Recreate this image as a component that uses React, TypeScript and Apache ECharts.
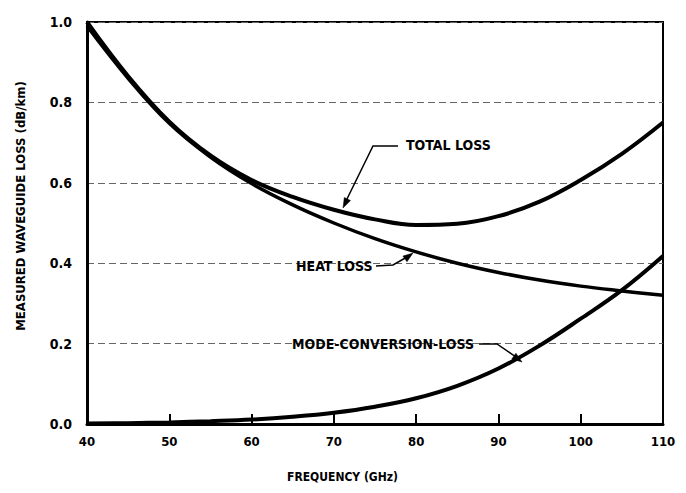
import React, { useEffect, useRef } from "react";
import * as echarts from "echarts";

const frequency = [40, 45, 50, 55, 60, 65, 70, 75, 80, 85, 90, 95, 100, 105, 110];
const totalLoss = [1.0, 0.865, 0.752, 0.668, 0.607, 0.565, 0.533, 0.509, 0.495, 0.498, 0.517, 0.553, 0.607, 0.672, 0.75];
const heatLoss = [0.99, 0.86, 0.748, 0.664, 0.598, 0.545, 0.5, 0.461, 0.428, 0.4, 0.377, 0.358, 0.343, 0.331, 0.32];
const modeConversionLoss = [0.001, 0.002, 0.004, 0.007, 0.011, 0.018, 0.028, 0.043, 0.064, 0.095, 0.138, 0.195, 0.262, 0.333, 0.418];

const FONT = "'DejaVu Sans Condensed', 'Liberation Sans Narrow', 'Liberation Sans', sans-serif";

const pairs = (ys: number[]) => frequency.map((f, i) => [f, ys[i]]);

export default function App() {
  const ref = useRef<HTMLDivElement>(null);
  useEffect(() => {
    if (!ref.current) return;
    const chart = echarts.init(ref.current, null, { renderer: "svg" });
    const lineSeries = (name: string, ys: number[], w: number) => ({
      name,
      type: "line",
      data: pairs(ys),
      smooth: 0.4,
      showSymbol: false,
      lineStyle: { color: "#000", width: w },
      z: 5,
    });
    const txt = (text: string, x: number, y: number, size = 14) => ({
      type: "text",
      x,
      y,
      style: {
        text,
        fill: "#000",
        font: `bold ${size}px ${FONT}`,
        textVerticalAlign: "middle",
      },
      z: 10,
    });
    const leader = (points: number[][]) => ({
      type: "polyline",
      shape: { points },
      style: { stroke: "#000", lineWidth: 1.5, fill: null },
      z: 10,
    });
    const head = (points: number[][]) => ({
      type: "polygon",
      shape: { points },
      style: { fill: "#000", stroke: "#000", lineWidth: 0.5 },
      z: 10,
    });
    chart.setOption({
      animation: false,
      backgroundColor: "#fff",
      grid: {
        left: 87,
        right: 23,
        top: 22,
        bottom: 69,
        show: true,
        borderColor: "#000",
        borderWidth: 2,
      },
      xAxis: {
        type: "value",
        min: 40,
        max: 110,
        interval: 10,
        axisLine: { show: true, lineStyle: { color: "#000", width: 3 } },
        axisTick: { show: true, inside: true, length: 10, lineStyle: { color: "#000", width: 2 } },
        axisLabel: { color: "#000", fontFamily: FONT, fontWeight: "bold", fontSize: 13, margin: 11 },
        splitLine: { show: false },
      },
      yAxis: {
        type: "value",
        min: 0,
        max: 1,
        interval: 0.2,
        axisLine: { show: true, lineStyle: { color: "#000", width: 3 } },
        axisTick: { show: false },
        axisLabel: {
          color: "#000",
          fontFamily: FONT,
          fontWeight: "bold",
          fontSize: 14,
          margin: 15,
          formatter: (v: number) => v.toFixed(1),
        },
        splitLine: { show: true, lineStyle: { color: "#666", width: 1, type: [7, 4] } },
      },
      series: [
        lineSeries("TOTAL LOSS", totalLoss, 4),
        lineSeries("HEAT LOSS", heatLoss, 3.5),
        lineSeries("MODE-CONVERSION-LOSS", modeConversionLoss, 4),
      ],
      graphic: [
        txt("TOTAL LOSS", 406, 145),
        leader([[398, 146], [373, 146], [346, 201]]),
        head([[343, 208], [350.5, 200.6], [344.3, 197.5]]),
        txt("HEAT LOSS", 296, 266),
        leader([[376, 266], [393, 265], [407, 257]]),
        head([[413, 253], [407.0, 261.7], [402.9, 256.1]]),
        txt("MODE-CONVERSION-LOSS", 292, 344),
        leader([[479, 344], [497, 344], [516, 357]]),
        head([[522, 362], [511.8, 359.0], [515.9, 353.3]]),
        txt("FREQUENCY (GHz)", 287, 477, 12),
        {
          type: "text",
          x: 20,
          y: 206,
          rotation: Math.PI / 2,
          style: {
            text: "MEASURED WAVEGUIDE LOSS (dB/km)",
            fill: "#000",
            font: `bold 13px ${FONT}`,
            textAlign: "center",
            textVerticalAlign: "middle",
          },
        },
      ],
    });
    return () => chart.dispose();
  }, []);
  return (
    <div
      ref={ref}
      style={{ position: "fixed", left: 0, top: 0, width: 686, height: 493, background: "#fff" }}
    />
  );
}
